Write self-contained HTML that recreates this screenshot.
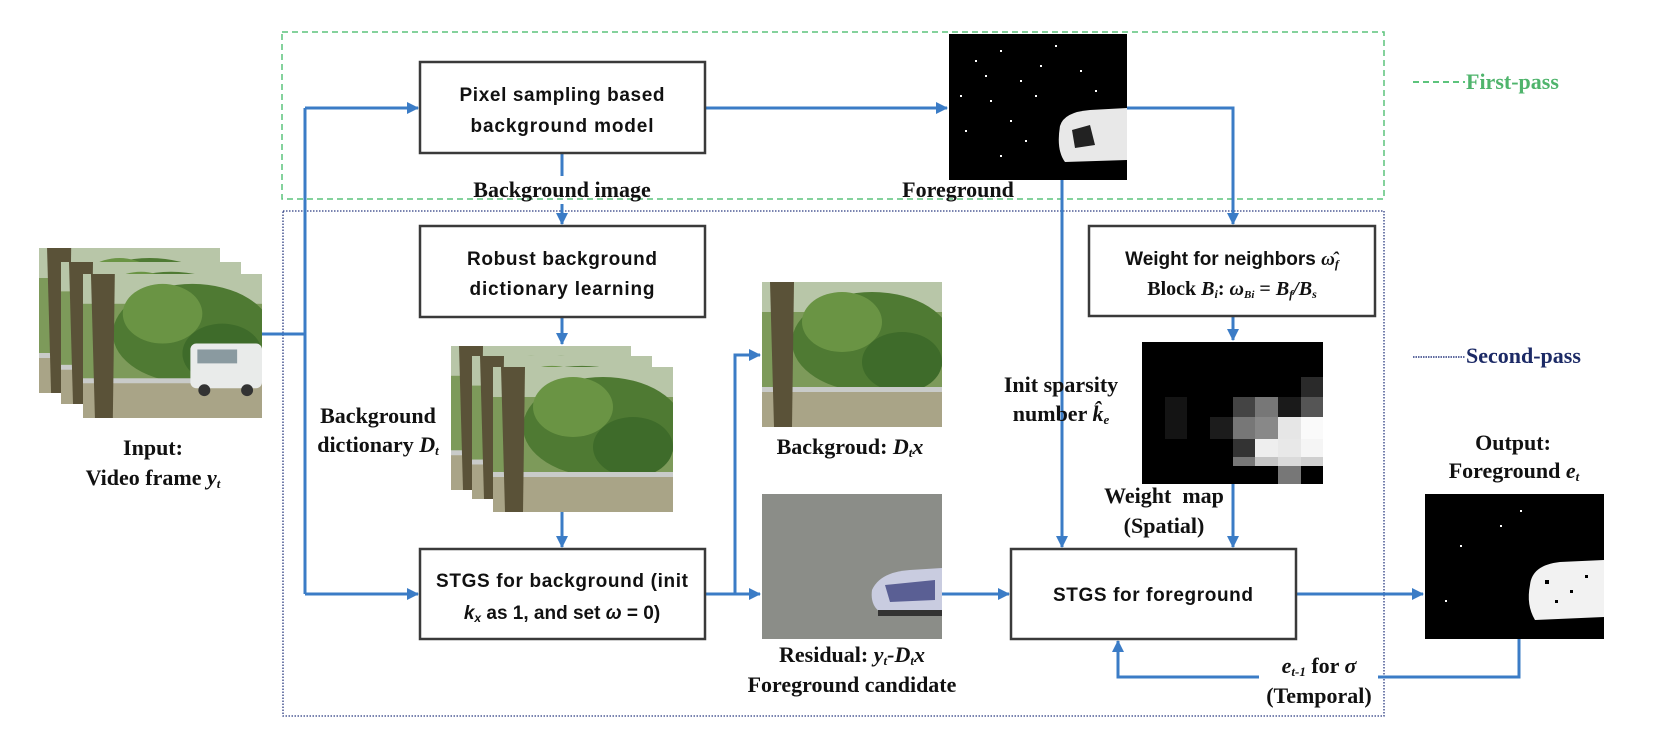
<!DOCTYPE html>
<html><head><meta charset="utf-8"><style>
html,body{margin:0;padding:0;background:#fff;}
svg{display:block;}
.bx{font-family:"Liberation Sans",sans-serif;font-weight:bold;font-size:19px;fill:#111;}
.lb{font-family:"Liberation Serif",serif;font-weight:bold;font-size:22px;fill:#111;}
</style></head><body>
<svg width="1658" height="746" viewBox="0 0 1658 746" xmlns="http://www.w3.org/2000/svg">
<defs>
<marker id="ar" markerWidth="12" markerHeight="12" refX="11" refY="6" orient="auto" markerUnits="userSpaceOnUse">
<path d="M0,0 L12,6 L0,12 z" fill="#3b7cc6"/></marker>
<symbol id="tree" viewBox="0 0 180 145" preserveAspectRatio="none">
<rect width="180" height="145" fill="#7d9a5a"/>
<rect width="180" height="30" fill="#b8c6a8"/>
<ellipse cx="110" cy="60" rx="80" ry="50" fill="#4f7a33"/>
<ellipse cx="80" cy="40" rx="40" ry="30" fill="#6a9444"/>
<ellipse cx="140" cy="80" rx="40" ry="30" fill="#3e6b2a"/>
<rect x="0" y="108" width="180" height="37" fill="#a9a487"/>
<rect x="0" y="105" width="180" height="5" fill="#c9cbc9"/>
<path d="M8,0 L32,0 L30,145 L12,145 z" fill="#5a5238"/>
</symbol>
<symbol id="van" viewBox="0 0 180 145" preserveAspectRatio="none">
<use href="#tree" width="180" height="145"/>
<rect x="108" y="70" width="72" height="45" rx="6" fill="#e9ebea"/>
<rect x="115" y="76" width="40" height="14" fill="#8a9aa0"/>
<circle cx="122" cy="117" r="6" fill="#333"/><circle cx="165" cy="117" r="6" fill="#333"/>
</symbol>
</defs>

<rect x="282" y="32" width="1102" height="167" fill="none" stroke="#5cc47c" stroke-width="1.5" stroke-dasharray="6,4"/>
<rect x="283" y="211" width="1101" height="505" fill="none" stroke="#2a3a80" stroke-width="1.3" stroke-dasharray="1.5,1.5"/>

<line x1="1413" y1="82" x2="1465" y2="82" stroke="#5cc47c" stroke-width="2" stroke-dasharray="6,4"/>
<text x="1466" y="89" class="lb" style="fill:#4fb46c">First-pass</text>
<line x1="1413" y1="357" x2="1465" y2="357" stroke="#2a3a80" stroke-width="1.5" stroke-dasharray="1.5,1"/>
<text x="1466" y="363" class="lb" style="fill:#1c2a66">Second-pass</text>

<use href="#tree" x="39" y="248" width="181" height="145"/>
<use href="#tree" x="61" y="262" width="180" height="142"/>
<use href="#van" x="83" y="274" width="179" height="144"/>
<text x="153" y="455" class="lb" text-anchor="middle">Input:</text>
<text x="153" y="485" class="lb" text-anchor="middle">Video frame <tspan font-style="italic">y<tspan font-size="13" dy="3">t</tspan></tspan></text>

<g stroke="#3b7cc6" stroke-width="3" fill="none">
<line x1="262" y1="334" x2="305" y2="334"/>
<line x1="305" y1="108" x2="305" y2="594"/>
<line x1="305" y1="108" x2="418" y2="108" marker-end="url(#ar)"/>
<line x1="305" y1="594" x2="418" y2="594" marker-end="url(#ar)"/>
<line x1="562" y1="153" x2="562" y2="176"/>
<line x1="562" y1="204" x2="562" y2="224" marker-end="url(#ar)"/>
<line x1="562" y1="317" x2="562" y2="344" marker-end="url(#ar)"/>
<line x1="562" y1="512" x2="562" y2="547" marker-end="url(#ar)"/>
<line x1="705" y1="594" x2="760" y2="594" marker-end="url(#ar)"/>
<polyline points="735,594 735,355 760,355" marker-end="url(#ar)"/>
<line x1="705" y1="108" x2="947" y2="108" marker-end="url(#ar)"/>
<polyline points="1127,108 1233,108 1233,224" marker-end="url(#ar)"/>
<line x1="1233" y1="316" x2="1233" y2="340" marker-end="url(#ar)"/>
<line x1="1233" y1="484" x2="1233" y2="547" marker-end="url(#ar)"/>
<line x1="1062" y1="180" x2="1062" y2="547" marker-end="url(#ar)"/>
<line x1="942" y1="594" x2="1009" y2="594" marker-end="url(#ar)"/>
<line x1="1296" y1="594" x2="1423" y2="594" marker-end="url(#ar)"/>
<polyline points="1519,639 1519,677 1378,677"/>
<polyline points="1259,677 1118,677 1118,641" marker-end="url(#ar)"/>
</g>

<g fill="#fff" stroke="#3a3a3a" stroke-width="2.5">
<rect x="420" y="62" width="285" height="91"/>
<rect x="420" y="226" width="285" height="91"/>
<rect x="420" y="549" width="285" height="90"/>
<rect x="1089" y="226" width="286" height="90"/>
<rect x="1011" y="549" width="285" height="90"/>
</g>
<text x="562" y="101" class="bx" text-anchor="middle" textLength="205">Pixel sampling based</text>
<text x="562" y="132" class="bx" text-anchor="middle" textLength="183">background model</text>
<text x="562" y="265" class="bx" text-anchor="middle" textLength="190">Robust background</text>
<text x="562" y="295" class="bx" text-anchor="middle" textLength="185">dictionary learning</text>
<text x="562" y="587" class="bx" text-anchor="middle" textLength="252">STGS for background (init</text>
<text x="562" y="619" class="bx" text-anchor="middle"><tspan font-style="italic">k<tspan font-size="12" dy="3">x</tspan></tspan><tspan dy="-3"> as 1, and set </tspan><tspan font-style="italic">ω</tspan> = 0)</text>
<text x="1153" y="601" class="bx" text-anchor="middle" textLength="200">STGS for foreground</text>
<text x="1232" y="265" class="bx" text-anchor="middle">Weight for neighbors <tspan font-family="Liberation Serif" font-style="italic">ω̂<tspan font-size="12" dy="3">f</tspan></tspan></text>
<text x="1232" y="295" class="lb" text-anchor="middle" style="font-size:20px">Block <tspan font-style="italic">B<tspan font-size="12" dy="3">i</tspan></tspan><tspan dy="-3">: </tspan><tspan font-style="italic">ω<tspan font-size="11" dy="3">Bi</tspan></tspan><tspan dy="-3"> = </tspan><tspan font-style="italic">B<tspan font-size="12" dy="3">f</tspan><tspan dy="-3">/B</tspan><tspan font-size="12" dy="3">s</tspan></tspan></text>

<text x="562" y="197" class="lb" text-anchor="middle">Background image</text>
<text x="378" y="423" class="lb" text-anchor="middle">Background</text>
<text x="378" y="452" class="lb" text-anchor="middle">dictionary <tspan font-style="italic">D<tspan font-size="13" dy="3">t</tspan></tspan></text>

<use href="#tree" x="451" y="346" width="180" height="144"/>
<use href="#tree" x="472" y="356" width="180" height="143"/>
<use href="#tree" x="493" y="367" width="180" height="145"/>

<use href="#tree" x="762" y="282" width="180" height="145"/>
<text x="850" y="454" class="lb" text-anchor="middle">Backgroud: <tspan font-style="italic">D<tspan font-size="13" dy="3">t</tspan><tspan dy="-3">x</tspan></tspan></text>

<rect x="762" y="494" width="180" height="145" fill="#8b8d88"/>
<path d="M872,590 Q880,572 910,570 L942,568 L942,610 L880,612 Q870,605 872,590 z" fill="#c9cce0"/>
<path d="M885,585 L935,580 L935,600 L890,602 z" fill="#5a5f94"/>
<rect x="878" y="610" width="64" height="6" fill="#333"/>
<text x="852" y="662" class="lb" text-anchor="middle">Residual: <tspan font-style="italic">y<tspan font-size="13" dy="3">t</tspan><tspan dy="-3">-D</tspan><tspan font-size="13" dy="3">t</tspan><tspan dy="-3">x</tspan></tspan></text>
<text x="852" y="692" class="lb" text-anchor="middle">Foreground candidate</text>

<rect x="949" y="34" width="178" height="146" fill="#000"/>
<path d="M1060,126 Q1064,112 1090,110 L1127,108 L1127,160 L1065,162 Q1056,150 1060,126 z" fill="#e8e8e8"/>
<path d="M1072,130 L1090,125 L1095,145 L1075,148 z" fill="#222"/>
<g fill="#fff">
<rect x="975" y="60" width="2" height="2"/><rect x="1000" y="50" width="2" height="2"/><rect x="1020" y="80" width="2" height="2"/>
<rect x="990" y="100" width="2" height="2"/><rect x="1040" y="65" width="2" height="2"/><rect x="965" y="130" width="2" height="2"/>
<rect x="1010" y="120" width="2" height="2"/><rect x="1035" y="95" width="2" height="2"/><rect x="985" y="75" width="2" height="2"/>
<rect x="1055" y="45" width="2" height="2"/><rect x="1080" y="70" width="2" height="2"/><rect x="960" y="95" width="2" height="2"/>
<rect x="1025" y="140" width="2" height="2"/><rect x="1000" y="155" width="2" height="2"/><rect x="1095" y="90" width="2" height="2"/>
</g>
<text x="958" y="197" class="lb" text-anchor="middle">Foreground</text>

<text x="1061" y="392" class="lb" text-anchor="middle">Init sparsity</text>
<text x="1061" y="421" class="lb" text-anchor="middle">number <tspan font-style="italic">k̂<tspan font-size="13" dy="3">e</tspan></tspan></text>

<rect x="1142" y="342" width="181" height="142" fill="#000"/>
<g>
<rect x="1301" y="377" width="22" height="20" fill="#2a2a2a"/>
<rect x="1165" y="397" width="22" height="42" fill="#141414"/>
<rect x="1210" y="417" width="23" height="22" fill="#1c1c1c"/>
<rect x="1233" y="397" width="22" height="20" fill="#444"/>
<rect x="1255" y="397" width="23" height="20" fill="#777"/>
<rect x="1278" y="397" width="23" height="20" fill="#1a1a1a"/>
<rect x="1301" y="397" width="22" height="20" fill="#555"/>
<rect x="1233" y="417" width="22" height="22" fill="#777"/>
<rect x="1255" y="417" width="23" height="22" fill="#888"/>
<rect x="1278" y="417" width="23" height="22" fill="#e6e6e6"/>
<rect x="1301" y="417" width="22" height="22" fill="#fafafa"/>
<rect x="1233" y="439" width="22" height="18" fill="#333"/>
<rect x="1255" y="439" width="23" height="18" fill="#eee"/>
<rect x="1278" y="439" width="23" height="18" fill="#e8e8e8"/>
<rect x="1301" y="439" width="22" height="18" fill="#f5f5f5"/>
<rect x="1233" y="457" width="22" height="9" fill="#777"/>
<rect x="1255" y="457" width="23" height="9" fill="#c4c4c4"/>
<rect x="1278" y="457" width="23" height="9" fill="#dadada"/>
<rect x="1301" y="457" width="22" height="9" fill="#cfcfcf"/>
<rect x="1278" y="466" width="23" height="18" fill="#777"/>
</g>
<text x="1164" y="503" class="lb" text-anchor="middle" xml:space="preserve">Weight  map</text>
<text x="1164" y="533" class="lb" text-anchor="middle">(Spatial)</text>

<text x="1513" y="450" class="lb" text-anchor="middle">Output:</text>
<text x="1514" y="478" class="lb" text-anchor="middle">Foreground <tspan font-style="italic">e<tspan font-size="13" dy="3">t</tspan></tspan></text>
<rect x="1425" y="494" width="179" height="145" fill="#000"/>
<path d="M1530,585 Q1532,565 1560,562 L1604,560 L1604,617 L1535,620 Q1526,605 1530,585 z" fill="#f2f2f2"/>
<g fill="#000"><rect x="1545" y="580" width="4" height="4"/><rect x="1570" y="590" width="3" height="3"/><rect x="1555" y="600" width="3" height="3"/><rect x="1585" y="575" width="3" height="3"/></g>
<g fill="#fff"><rect x="1460" y="545" width="2" height="2"/><rect x="1500" y="525" width="2" height="2"/><rect x="1445" y="600" width="2" height="2"/><rect x="1520" y="510" width="2" height="2"/></g>
<text x="1319" y="673" class="lb" text-anchor="middle"><tspan font-style="italic">e<tspan font-size="13" dy="3">t-1</tspan></tspan><tspan dy="-3"> for </tspan><tspan font-style="italic">σ</tspan></text>
<text x="1319" y="703" class="lb" text-anchor="middle">(Temporal)</text>
</svg>
</body></html>
